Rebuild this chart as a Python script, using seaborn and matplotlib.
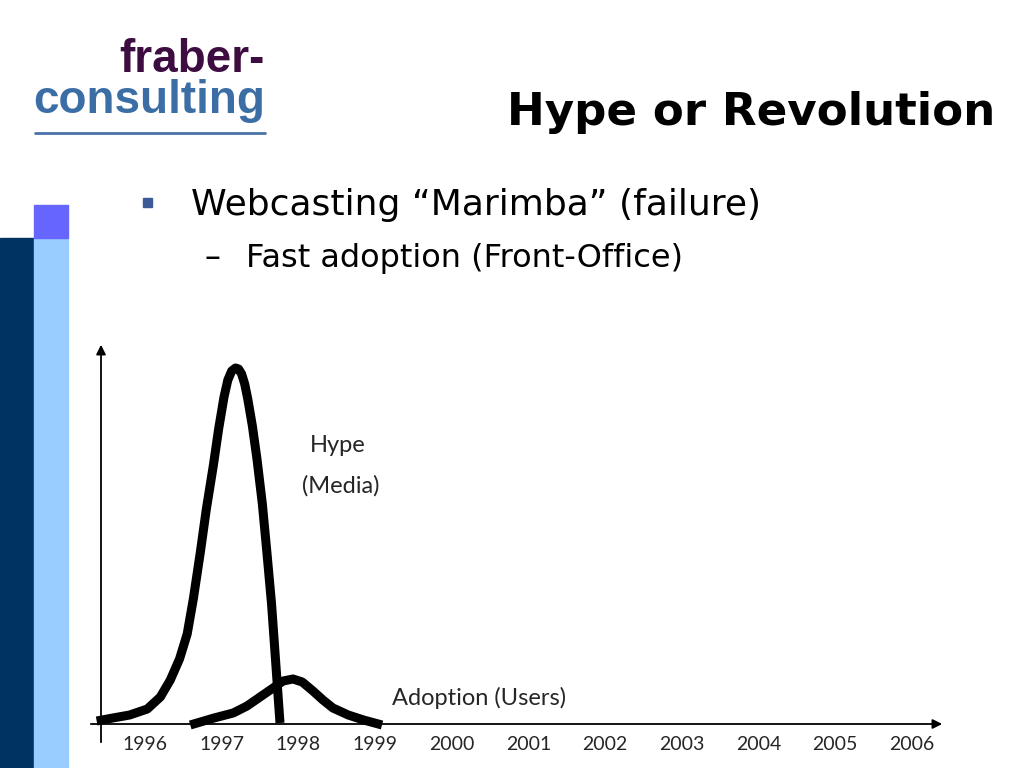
import numpy as np
import pandas as pd
import matplotlib
matplotlib.use("Agg")
import matplotlib.pyplot as plt
import matplotlib.patches as mpatches
import seaborn as sns

# === data =================================================================
years = [1996, 1997, 1998, 1999, 2000, 2001, 2002, 2003, 2004, 2005, 2006]

hype_x = [1995.37, 1995.58, 1995.80, 1996.03, 1996.20, 1996.33, 1996.45, 1996.55,
          1996.63, 1996.72, 1996.80, 1996.89, 1996.96, 1997.03, 1997.08, 1997.13,
          1997.18, 1997.22, 1997.26, 1997.30, 1997.34, 1997.40, 1997.46, 1997.53,
          1997.59, 1997.65, 1997.70, 1997.76]
hype_y = [3, 6, 9, 15, 27, 44, 65, 90, 125, 171, 215, 258, 295, 327, 344, 353,
          356, 355, 350, 340, 325, 298, 265, 220, 171, 120, 66, 1]

adopt_x = [1996.59, 1996.90, 1997.15, 1997.33, 1997.50, 1997.67, 1997.80, 1997.93,
           1998.05, 1998.19, 1998.32, 1998.45, 1998.65, 1998.85, 1999.09]
adopt_y = [-1, 6, 11, 18, 27, 36, 43, 45, 42, 33, 24, 16, 9, 4, -1]

title = "Hype or Revolution"
bullet = "Webcasting \u201cMarimba\u201d (failure)"
sub_bullet = "Fast adoption (Front-Office)"

# === figure ===============================================================
sns.set_theme(style="white")
W, H = 1024, 768
fig = plt.figure(figsize=(W / 100, H / 100), dpi=100)
fig.patch.set_facecolor("white")


def fx(px):
    return px / W


def fy(py):
    return 1 - py / H


# decorative slide bars on the left
for (x0, y0, x1, y1, c) in [(0, 238, 34, 768, "#00335F"),
                            (34, 238, 68, 768, "#99CCFF"),
                            (34, 205, 68, 238, "#6666FF")]:
    fig.patches.append(mpatches.Rectangle((fx(x0), fy(y1)), fx(x1 - x0), (y1 - y0) / H,
                                          transform=fig.transFigure, color=c, zorder=0))

# logo
fig.text(fx(265), fy(72), "fraber-", ha="right", va="baseline", fontsize=33,
         fontweight="bold", color="#3D0C40", family="Liberation Sans")
fig.text(fx(265), fy(113), "consulting", ha="right", va="baseline", fontsize=33,
         fontweight="bold", color="#3C6EA6", family="Liberation Sans")
fig.add_artist(plt.Line2D([fx(35), fx(265)], [fy(133), fy(133)], color="#4A72A8",
                          lw=2, transform=fig.transFigure))

# title and bullets
fig.text(fx(995), fy(125), title, ha="right", va="baseline", fontsize=32.5,
         fontweight="bold", color="black", family="DejaVu Sans")
fig.patches.append(mpatches.Rectangle((fx(143), fy(207)), fx(9), 9 / H,
                                      transform=fig.transFigure, color="#3C5A96"))
fig.text(fx(191), fy(215), bullet, ha="left", va="baseline", fontsize=26,
         color="black", family="DejaVu Sans")
fig.text(fx(213), fy(267), "\u2013", ha="center", va="baseline", fontsize=23,
         color="black", family="DejaVu Sans")
fig.text(fx(246), fy(267), sub_bullet, ha="left", va="baseline", fontsize=23,
         color="black", family="DejaVu Sans")

# === chart ================================================================
px_per_year = 76.7


def year_at(px):
    return 1996 + (px - 145) / px_per_year


ax_left, ax_right, ax_top, ax_bottom = 85, 950, 330, 724
ax = fig.add_axes([fx(ax_left), fy(ax_bottom), fx(ax_right - ax_left),
                   (ax_bottom - ax_top) / H])
ax.set_xlim(year_at(ax_left), year_at(ax_right))
ax.set_ylim(0, ax_bottom - ax_top)
ax.patch.set_alpha(0)
for s in ax.spines.values():
    s.set_visible(False)

hype = pd.DataFrame({"year": hype_x, "level": hype_y})
adopt = pd.DataFrame({"year": adopt_x, "level": adopt_y})
sns.lineplot(data=hype, x="year", y="level", ax=ax, color="black", lw=6.5,
             sort=False, solid_capstyle="butt", solid_joinstyle="round", clip_on=False)
sns.lineplot(data=adopt, x="year", y="level", ax=ax, color="black", lw=6.5,
             sort=False, solid_capstyle="butt", solid_joinstyle="round", clip_on=False)

# axes with arrowheads
ax.annotate("", xy=(year_at(945), 0), xytext=(year_at(88), 0),
            arrowprops=dict(arrowstyle="-|>", color="black", lw=1.3, mutation_scale=14),
            annotation_clip=False)
ax.annotate("", xy=(year_at(101), 724 - 342), xytext=(year_at(101), 724 - 745),
            arrowprops=dict(arrowstyle="-|>", color="black", lw=1.3, mutation_scale=14),
            annotation_clip=False)

lab_font = "Lato"
ax.set_xticks(years)
ax.set_xticklabels([str(y) for y in years], fontsize=14, family=lab_font)
ax.tick_params(axis="x", length=0, pad=9)
ax.set_yticks([])
ax.set_xlabel("")
ax.set_ylabel("")

ax.text(year_at(338), 724 - 445, "Hype", ha="center", va="center", fontsize=17,
        family=lab_font)
ax.text(year_at(341), 724 - 486, "(Media)", ha="center", va="center", fontsize=17,
        family=lab_font)
ax.text(year_at(479), 724 - 698, "Adoption (Users)", ha="center", va="center",
        fontsize=17, family=lab_font)

fig.savefig("out.png", dpi=100)
